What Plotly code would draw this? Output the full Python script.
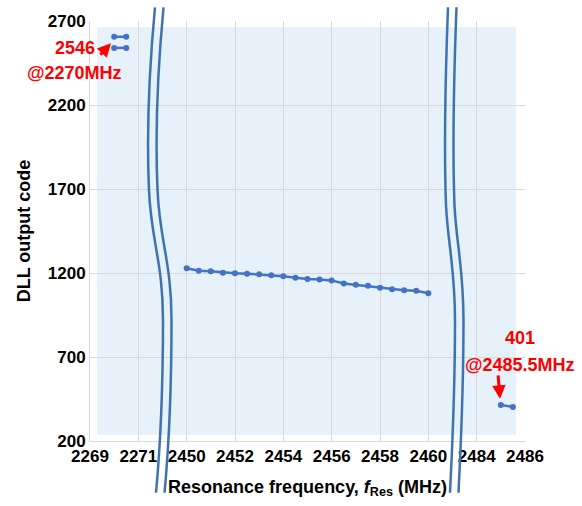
import plotly.graph_objects as go

# ---------------- data ----------------
seg_low_freq = [2270.0, 2270.5]
seg_low_code_a = [2606, 2606]
seg_low_code_b = [2540, 2540]

mid_freq = [2450.0 + 0.5 * i for i in range(21)]
mid_code = [1228, 1214, 1210, 1202, 1198, 1196, 1192, 1186, 1180, 1172, 1164,
            1162, 1156, 1138, 1130, 1124, 1112, 1104, 1097, 1094, 1079]

high_freq = [2485.0, 2485.5]
high_code = [415, 403]

tick_labels = ["2269", "2271", "2450", "2452", "2454", "2456", "2458", "2460", "2484", "2486"]

# broken-axis mapping: each segment starts at a fixed slot; 2 MHz per slot
SEG_START = [(2269, 0), (2450, 2), (2484, 8)]


def u(f):
    base, slot = SEG_START[0]
    for b, s in SEG_START:
        if f >= b:
            base, slot = b, s
    return slot + (f - base) / 2.0


BLUE = "#4472C4"
BREAK = "#3E74AE"
FONT = "Liberation Sans, Arial, sans-serif"
RED = "#FF0000"

fig = go.Figure()
for xs, ys in [(seg_low_freq, seg_low_code_a), (seg_low_freq, seg_low_code_b),
               (mid_freq, mid_code), (high_freq, high_code)]:
    fig.add_trace(go.Scatter(
        x=[u(f) for f in xs], y=ys, mode="lines+markers",
        line=dict(color=BLUE, width=2.5),
        marker=dict(color=BLUE, size=6),
        showlegend=False, hoverinfo="skip"))

# plot geometry (pixels) used for decorations
L, R, T, B = 90, 525, 20.7, 441.2
W, H = 582, 506


def px(x):
    return (x - L) / (R - L)


def py(y):
    return (B - y) / (B - T)


def wavy(pts):
    s = "M {:.4f},{:.4f}".format(px(pts[0][0]), py(pts[0][1]))
    rest = pts[1:]
    for i in range(0, len(rest), 3):
        s += " C " + " ".join("{:.4f},{:.4f}".format(px(a), py(b)) for a, b in rest[i:i + 3])
    return s


shapes = [dict(type="rect", xref="paper", yref="paper",
               x0=px(97), x1=px(516), y0=py(435), y1=py(27),
               fillcolor="#E6F1FA", line=dict(width=0), layer="below")]

left_break = [(155, 7), (150, 60), (146, 120), (149, 190), (151, 240), (163, 262), (163, 320),
              (163, 400), (160, 450), (156, 493)]
right_break = [(448, 7), (446, 60), (444, 150), (446, 205), (448, 245), (455, 268), (455, 320),
               (455, 400), (452, 450), (450, 493)]
for curve in (left_break, right_break):
    for dx in (0, 8.5):
        shapes.append(dict(type="path", xref="paper", yref="paper",
                           path=wavy([(x + dx, y) for x, y in curve]),
                           line=dict(color=BREAK, width=2.5), layer="above"))

afont = dict(family=FONT, size=18, color=RED, weight="bold")
annotations = [
    dict(x=px(75), y=py(48), xref="paper", yref="paper", text="2546", showarrow=False,
         font=afont, xanchor="center", yanchor="middle"),
    dict(x=px(74), y=py(73), xref="paper", yref="paper", text="@2270MHz", showarrow=False,
         font=afont, xanchor="center", yanchor="middle"),
    dict(x=px(111), y=py(43), xref="paper", yref="paper", text="", showarrow=True,
         ax=-12, ay=13, arrowhead=2, arrowsize=0.9, arrowwidth=3, arrowcolor=RED, standoff=0),
    dict(x=px(520), y=py(338), xref="paper", yref="paper", text="401", showarrow=False,
         font=afont, xanchor="center", yanchor="middle"),
    dict(x=px(520), y=py(365), xref="paper", yref="paper", text="@2485.5MHz", showarrow=False,
         font=afont, xanchor="center", yanchor="middle"),
    dict(x=px(500), y=py(399), xref="paper", yref="paper", text="", showarrow=True,
         ax=-2, ay=-25, arrowhead=2, arrowsize=0.9, arrowwidth=3, arrowcolor=RED, standoff=0),
]

fig.update_layout(
    width=W, height=H,
    margin=dict(l=L, r=W - R, t=T, b=H - B, autoexpand=False),
    paper_bgcolor="white", plot_bgcolor="white",
    shapes=shapes, annotations=annotations,
    font=dict(family=FONT, color="black"),
    xaxis=dict(range=[0, 9], tickvals=list(range(10)), ticktext=tick_labels,
               automargin=False,
               showgrid=True, gridcolor="#D9D9D9", gridwidth=1,
               showline=True, linecolor="#D9D9D9", mirror=False, zeroline=False,
               tickfont=dict(family=FONT, size=17, color="black", weight="bold"),
               title=dict(text="Resonance frequency, <i>f</i><sub>Res</sub> (MHz)",
                          font=dict(family=FONT, size=18, color="black", weight="bold"),
                          standoff=14)),
    yaxis=dict(range=[200, 2700], tickvals=[200, 700, 1200, 1700, 2200, 2700],
               automargin=False,
               showgrid=True, gridcolor="#D9D9D9", gridwidth=1,
               showline=True, linecolor="#D9D9D9", zeroline=False,
               tickfont=dict(family=FONT, size=17, color="black", weight="bold"),
               title=dict(text="DLL output code",
                          font=dict(family=FONT, size=18, color="black", weight="bold"),
                          standoff=12)),
)

fig.write_html("out.html", config={"displayModeBar": False},
               post_script="document.body.style.margin='0';")
